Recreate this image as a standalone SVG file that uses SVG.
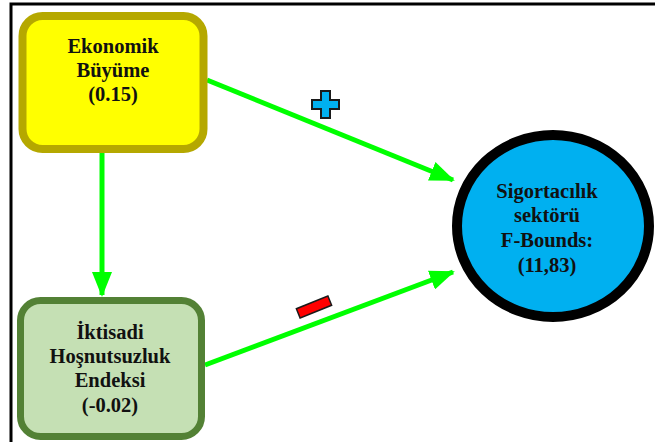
<svg xmlns="http://www.w3.org/2000/svg" width="655" height="446" viewBox="0 0 655 446">
<style>
.t{font-family:'Liberation Serif', 'Times New Roman', serif;font-weight:700;font-size:20.5px;fill:#111;text-anchor:middle}
.conn{stroke:#00FF00;stroke-width:5;fill:none}
</style>
<defs>
<marker id="ah" markerWidth="5" markerHeight="4" refX="4.6" refY="2" orient="auto" markerUnits="strokeWidth">
<path d="M0,0 L5,2 L0,4 z" fill="#00FF00"/>
</marker>
</defs>
<rect width="655" height="446" fill="#fff"/>
<path d="M11,442 V4 H655" fill="none" stroke="#000" stroke-width="3"/>
<g id="connectors">
<line class="conn" x1="102" y1="153" x2="102" y2="295" marker-end="url(#ah)"/>
<line class="conn" x1="207" y1="80" x2="453" y2="180" marker-end="url(#ah)"/>
<line class="conn" x1="205" y1="365" x2="453" y2="272" marker-end="url(#ah)"/>
</g>
<g id="ekonomik">
<rect x="22.5" y="16" width="181" height="133" rx="20" fill="#FFFF00" stroke="#B5A800" stroke-width="8"/>
<text class="t" x="113" y="53">Ekonomik</text>
<text class="t" x="113" y="77">Büyüme</text>
<text class="t" x="113" y="101">(0.15)</text>
</g>
<g id="iktisadi">
<rect x="20.5" y="300.5" width="181" height="136" rx="20" fill="#C5E0B4" stroke="#538135" stroke-width="7"/>
<text class="t" x="110" y="339">İktisadi</text>
<text class="t" x="110" y="363">Hoşnutsuzluk</text>
<text class="t" x="110" y="387">Endeksi</text>
<text class="t" x="110" y="412">(-0.02)</text>
</g>
<g id="sigorta">
<ellipse cx="553" cy="226" rx="96" ry="91" fill="#00B0F0" stroke="#000" stroke-width="10"/>
<text class="t" x="547" y="198">Sigortacılık</text>
<text class="t" x="547" y="222">sektörü</text>
<text class="t" x="547" y="247">F-Bounds:</text>
<text class="t" x="547" y="272">(11,83)</text>
</g>
<g id="plus">
<path d="M321,91 h9 v9 h9 v9 h-9 v9 h-9 v-9 h-9 v-9 h9 z" fill="#00B0F0" stroke="#1a1a1a" stroke-width="2"/>
</g>
<g id="minus">
<rect x="-17" y="-5" width="34" height="10" fill="#FF0000" stroke="#1a1a1a" stroke-width="1.5" transform="translate(314,307) rotate(-22)"/>
</g>
</svg>
